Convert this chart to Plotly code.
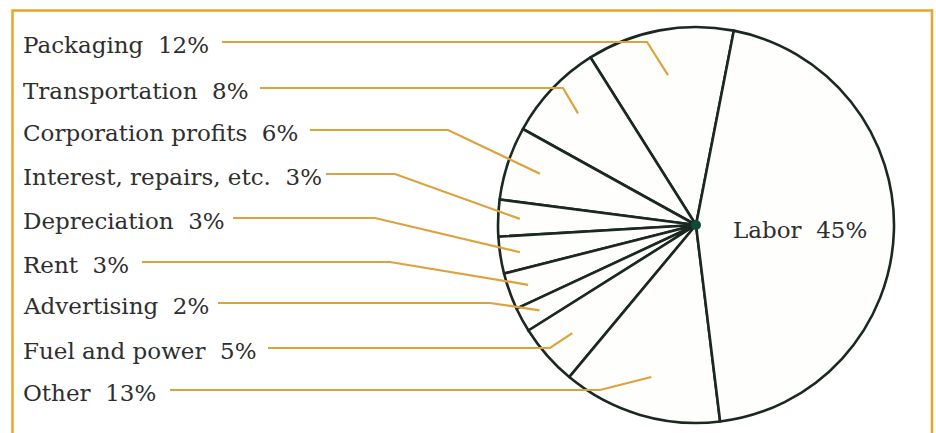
import math
import plotly.graph_objects as go

# ---- data ----
categories = ["Packaging", "Transportation", "Corporation profits",
              "Interest, repairs, etc.", "Depreciation", "Rent",
              "Advertising", "Fuel and power", "Other", "Labor"]
values = [12, 8, 6, 3, 3, 3, 2, 5, 13, 45]

# ---- layout constants (pixels) ----
W, H = 936, 433
CX, CY, R = 696, 225, 198
START_ANGLE = 11          # Packaging's clockwise edge, deg clockwise from 12 o'clock
ROW_Y = [42, 88, 130, 174, 218, 262, 303, 348, 390]
LINE_START_X = [222, 260, 310, 326, 233, 142, 218, 268, 170]
ELBOW_X = [647, 563, 448, 395, 375, 390, 490, 550, 600]
DEPTH = [0.77, 0.82, 0.83, 0.89, 0.90, 0.90, 0.90, 0.83, 0.80]

FONT = "DejaVu Serif"
FONT_SIZE = 23
TEXT_COLOR = "#2e2e2e"
LEADER = "#dca23c"
OUTLINE = "#1b2822"
BORDER = "#e8a52a"

total = sum(values)
# plotly (counterclockwise) places the first slice between rotation and rotation + its angle
rotation = START_ANGLE - values[0] / total * 360

fig = go.Figure()

fig.add_trace(go.Pie(
    labels=categories, values=values, sort=False,
    direction="counterclockwise", rotation=rotation,
    textinfo="none", hoverinfo="label+percent",
    marker=dict(colors=["#fefefc"] * len(values),
                line=dict(color=OUTLINE, width=2.6)),
    domain=dict(x=[(CX - R) / W, (CX + R) / W],
                y=[1 - (CY + R) / H, 1 - (CY - R) / H]),
    showlegend=False,
))

shapes = [dict(type="rect", xref="x", yref="y", x0=12.5, y0=10.5, x1=932, y1=445,
               line=dict(color=BORDER, width=2.5), fillcolor="rgba(0,0,0,0)", layer="below")]
annotations = []

cum = 0
for i, (cat, v) in enumerate(zip(categories, values)):
    mid = START_ANGLE - (cum + v / 2) / total * 360
    cum += v
    if cat == "Labor":
        annotations.append(dict(x=800, y=CY + 5, xref="x", yref="y",
                                text=f"{cat}\u00a0\u00a0{v}%", showarrow=False,
                                font=dict(family=FONT, size=FONT_SIZE, color=TEXT_COLOR),
                                xanchor="center", yanchor="middle"))
        continue
    a = math.radians(mid)
    ex = CX + DEPTH[i] * R * math.sin(a)
    ey = CY - DEPTH[i] * R * math.cos(a)
    y = ROW_Y[i]
    annotations.append(dict(x=21, y=y + 3, xref="x", yref="y",
                            text=f"{cat}\u00a0\u00a0{v}%", showarrow=False,
                            font=dict(family=FONT, size=FONT_SIZE, color=TEXT_COLOR),
                            xanchor="left", yanchor="middle"))
    shapes.append(dict(type="path", xref="x", yref="y",
                       path=f"M {LINE_START_X[i]} {y} L {ELBOW_X[i]} {y} L {ex:.1f} {ey:.1f}",
                       line=dict(color=LEADER, width=2.2)))

# center hub where spokes meet
shapes.append(dict(type="circle", xref="x", yref="y", x0=CX - 5, y0=CY - 5,
                   x1=CX + 5, y1=CY + 5, fillcolor="#0d4a39", line=dict(width=0)))

fig.update_layout(
    width=W, height=H, margin=dict(l=0, r=0, t=0, b=0),
    paper_bgcolor="#ffffff", plot_bgcolor="rgba(0,0,0,0)",
    xaxis=dict(range=[0, W], visible=False, fixedrange=True),
    yaxis=dict(range=[H, 0], visible=False, fixedrange=True),
    shapes=shapes, annotations=annotations,
)

fig.write_html("out.html", config={"displayModeBar": False},
               post_script="document.body.style.margin='0px';")
